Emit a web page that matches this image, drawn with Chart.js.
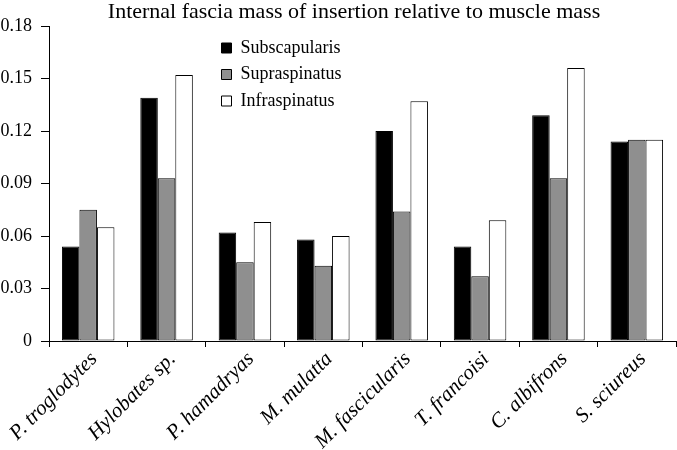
<!DOCTYPE html>
<html>
<head>
<meta charset="utf-8">
<script src="https://cdn.jsdelivr.net/npm/chart.js@4/dist/chart.umd.min.js"></script>
<style>
  html, body { margin: 0; padding: 0; background: #fff; }
  #wrap { width: 677px; height: 450px; }
</style>
</head>
<body>
<div id="wrap"><canvas id="chart" width="677" height="450"></canvas></div>
<script>
const species = ['P. troglodytes', 'Hylobates sp.', 'P. hamadryas', 'M. mulatta',
  'M. fascicularis', 'T. francoisi', 'C. albifrons', 'S. sciureus'];
const subscapularis = [0.054, 0.139, 0.062, 0.058, 0.120, 0.054, 0.129, 0.114];
const supraspinatus = [0.075, 0.093, 0.045, 0.043, 0.074, 0.037, 0.093, 0.115];
const infraspinatus = [0.065, 0.152, 0.068, 0.060, 0.137, 0.069, 0.156, 0.115];

const FONT = '"Liberation Serif", "Times New Roman", serif';

// move legend and title to where the original figure has them
const placeBoxes = {
  id: 'placeBoxes',
  afterLayout(chart) {
    const lg = chart.legend;
    const dx = 213 - lg.left, dy = 30.5 - lg.top;
    lg.left += dx; lg.right += dx; lg.top += dy; lg.bottom += dy;
    const t = chart.titleBlock;
    const tx = 354 - (t.left + t.right) / 2;
    t.left += tx; t.right += tx;
  }
};

const makeSet = (label, data, color) => ({
  label, data,
  backgroundColor: color,
  borderColor: '#000',
  borderWidth: 1,
  borderSkipped: false,
  barPercentage: 1,
  categoryPercentage: 0.67,
});

new Chart(document.getElementById('chart'), {
  type: 'bar',
  data: {
    labels: species,
    datasets: [
      makeSet('Subscapularis', subscapularis, '#000000'),
      makeSet('Supraspinatus', supraspinatus, '#8f8f8f'),
      makeSet('Infraspinatus', infraspinatus, '#ffffff'),
    ],
  },
  options: {
    responsive: false,
    animation: false,
    layout: { padding: { left: 0, right: 1, top: 0, bottom: 0 } },
    plugins: {
      title: {
        display: true,
        text: 'Internal fascia mass of insertion relative to muscle mass',
        color: '#000',
        font: { family: FONT, size: 22, weight: 'normal', lineHeight: 1 },
        padding: { top: 1, bottom: 3 },
      },
      legend: {
        position: 'chartArea',
        align: 'start',
        labels: {
          color: '#000',
          font: { family: FONT, size: 18, weight: 'normal' },
          boxWidth: 10,
          boxHeight: 10,
          padding: 8.5,
        },
      },
      tooltip: { enabled: false },
    },
    scales: {
      x: {
        grid: { drawOnChartArea: false, tickLength: 6, tickColor: '#000' },
        border: { color: '#000', width: 1 },
        ticks: {
          color: '#000',
          font: { family: FONT, size: 21, style: 'italic', weight: 'normal' },
          minRotation: 45,
          maxRotation: 45,
          padding: 0,
          labelOffset: 6,
        },
        afterFit(scale) { scale.height = 109; },
      },
      y: {
        min: 0,
        max: 0.18,
        grid: { drawOnChartArea: false, tickLength: 8, tickColor: '#000' },
        border: { color: '#000', width: 1 },
        ticks: {
          stepSize: 0.03,
          color: '#000',
          font: { family: FONT, size: 18, weight: 'normal' },
          padding: 9,
          callback: v => v === 0 ? '0' : v.toFixed(2),
        },
        afterFit(scale) { scale.width = 49; },
      },
    },
  },
  plugins: [placeBoxes],
});
</script>
</body>
</html>
